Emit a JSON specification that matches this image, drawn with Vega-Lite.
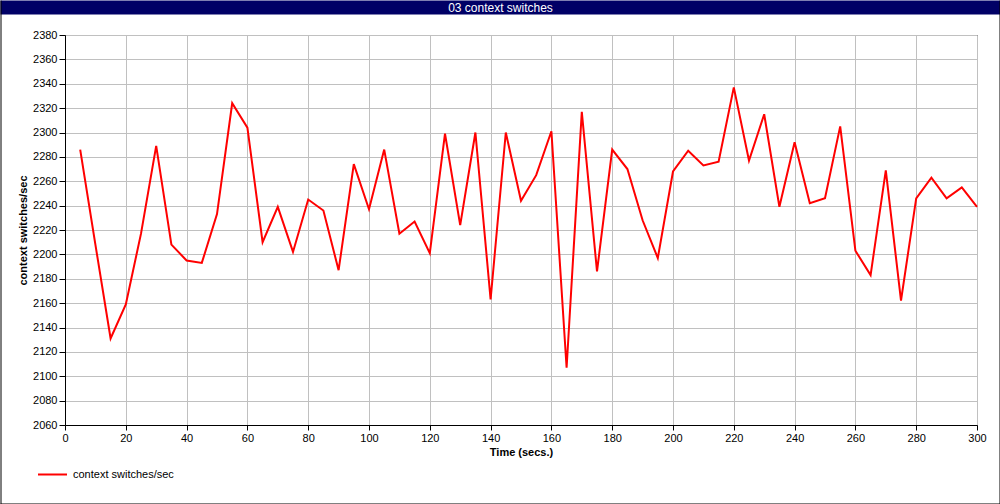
{
  "$schema": "https://vega.github.io/schema/vega-lite/v6.json",
  "width": 912,
  "height": 390,
  "autosize": {"type": "none"},
  "padding": {"left": 65, "top": 35, "right": 23, "bottom": 79},
  "background": "white",
  "config": {
    "font": "Liberation Sans",
    "view": {"stroke": "black", "strokeWidth": 1},
    "axis": {
      "labelFont": "Liberation Sans",
      "titleFont": "Liberation Sans",
      "labelColor": "black",
      "titleColor": "black",
      "domainColor": "black",
      "tickColor": "black",
      "labelFontSize": 11,
      "titleFontSize": 11
    }
  },
  "data": {
    "values": [
      {"t": 5, "cs": 2286}, {"t": 10, "cs": 2208}, {"t": 15, "cs": 2131}, {"t": 20, "cs": 2159},
      {"t": 25, "cs": 2217}, {"t": 30, "cs": 2289}, {"t": 35, "cs": 2208}, {"t": 40, "cs": 2195},
      {"t": 45, "cs": 2193}, {"t": 50, "cs": 2233}, {"t": 55, "cs": 2324}, {"t": 60, "cs": 2304},
      {"t": 65, "cs": 2210}, {"t": 70, "cs": 2239}, {"t": 75, "cs": 2202}, {"t": 80, "cs": 2245},
      {"t": 85, "cs": 2236}, {"t": 90, "cs": 2187}, {"t": 95, "cs": 2274}, {"t": 100, "cs": 2237},
      {"t": 105, "cs": 2286}, {"t": 110, "cs": 2217}, {"t": 115, "cs": 2227}, {"t": 120, "cs": 2201},
      {"t": 125, "cs": 2299}, {"t": 130, "cs": 2224}, {"t": 135, "cs": 2300}, {"t": 140, "cs": 2163},
      {"t": 145, "cs": 2300}, {"t": 150, "cs": 2244}, {"t": 155, "cs": 2265}, {"t": 160, "cs": 2301},
      {"t": 165, "cs": 2107}, {"t": 170, "cs": 2317}, {"t": 175, "cs": 2186}, {"t": 180, "cs": 2286},
      {"t": 185, "cs": 2270}, {"t": 190, "cs": 2228}, {"t": 195, "cs": 2197}, {"t": 200, "cs": 2268},
      {"t": 205, "cs": 2285}, {"t": 210, "cs": 2273}, {"t": 215, "cs": 2276}, {"t": 220, "cs": 2337},
      {"t": 225, "cs": 2277}, {"t": 230, "cs": 2315}, {"t": 235, "cs": 2239}, {"t": 240, "cs": 2292},
      {"t": 245, "cs": 2242}, {"t": 250, "cs": 2246}, {"t": 255, "cs": 2305}, {"t": 260, "cs": 2203},
      {"t": 265, "cs": 2183}, {"t": 270, "cs": 2269}, {"t": 275, "cs": 2162}, {"t": 280, "cs": 2246},
      {"t": 285, "cs": 2263}, {"t": 290, "cs": 2246}, {"t": 295, "cs": 2255}, {"t": 300, "cs": 2239}
    ]
  },
  "layer": [
    {
      "mark": {"type": "line", "strokeWidth": 2},
      "encoding": {
        "x": {
          "field": "t", "type": "quantitative",
          "scale": {"domain": [0, 300], "nice": false, "zero": false},
          "axis": {
            "orient": "bottom",
            "values": [0, 20, 40, 60, 80, 100, 120, 140, 160, 180, 200, 220, 240, 260, 280, 300],
            "format": "d",
            "tickSize": 5, "labelPadding": 2, "labelFlush": false,
            "grid": true, "gridColor": "#c0c0c0", "gridWidth": 1,
            "title": "Time (secs.)", "titleFontWeight": "bold", "titlePadding": 3
          }
        },
        "y": {
          "field": "cs", "type": "quantitative",
          "scale": {"domain": [2060, 2380], "nice": false, "zero": false},
          "axis": {
            "orient": "left",
            "values": [2060, 2080, 2100, 2120, 2140, 2160, 2180, 2200, 2220, 2240, 2260, 2280, 2300, 2320, 2340, 2360, 2380],
            "format": "d",
            "tickSize": 6, "labelPadding": 2, "labelFlush": false,
            "grid": true, "gridColor": "#c0c0c0", "gridWidth": 1,
            "title": "context switches/sec", "titleFontWeight": "bold", "titlePadding": 4
          }
        },
        "color": {
          "datum": "context switches/sec",
          "type": "nominal",
          "scale": {"range": ["#ff0000"]},
          "legend": {
            "orient": "none", "legendX": -28, "legendY": 424,
            "title": null, "padding": 0,
            "symbolType": "stroke", "symbolSize": 841, "symbolStrokeWidth": 2,
            "labelFont": "Liberation Sans", "labelFontSize": 11, "labelColor": "black", "labelOffset": 5
          }
        }
      }
    },
    {
      "mark": {"type": "point", "opacity": 0},
      "encoding": {
        "x": {
          "field": "t", "type": "quantitative",
          "scale": {"domain": [0, 300], "range": [-65, 935], "nice": false, "zero": false},
          "axis": {
            "orient": "top", "offset": 28,
            "domainColor": "#000066", "domainWidth": 14,
            "ticks": false, "labels": false, "grid": false,
            "title": "03 context switches", "titleColor": "white", "titleFontSize": 12,
            "titleFontWeight": "normal", "titleY": 0, "titleBaseline": "middle"
          }
        },
        "y": {
          "field": "cs", "type": "quantitative",
          "scale": {"domain": [2060, 2380], "range": [469, -35], "nice": false, "zero": false},
          "axis": {
            "orient": "left", "offset": 64.5,
            "domainColor": "black", "domainWidth": 1,
            "ticks": false, "labels": false, "grid": false, "title": null
          }
        }
      }
    },
    {
      "mark": {"type": "point", "opacity": 0},
      "encoding": {
        "x": {
          "field": "t", "type": "quantitative",
          "scale": {"domain": [0, 300], "range": [-65, 935], "nice": false, "zero": false},
          "axis": {
            "orient": "bottom", "offset": 78.5,
            "domainColor": "black", "domainWidth": 1,
            "ticks": false, "labels": false, "grid": false, "title": null
          }
        },
        "y": {
          "field": "cs", "type": "quantitative",
          "scale": {"domain": [2060, 2380], "range": [469, -35], "nice": false, "zero": false},
          "axis": {
            "orient": "right", "offset": 22.5,
            "domainColor": "black", "domainWidth": 1,
            "ticks": false, "labels": false, "grid": false, "title": null
          }
        }
      }
    }
  ],
  "resolve": {"scale": {"x": "independent", "y": "independent"}}
}
